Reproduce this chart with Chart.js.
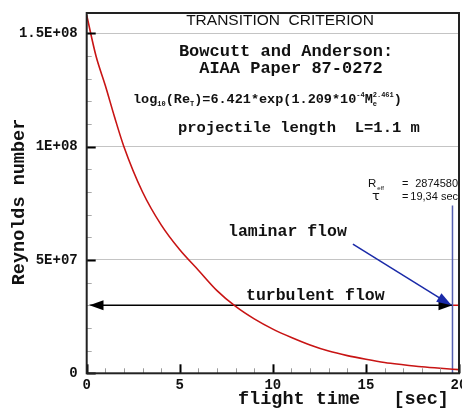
<!DOCTYPE html>
<html lang="en">
<head>
  <meta charset="UTF-8">
  <title>Transition criterion</title>
  <style>
    body {
      margin: 0;
      background: #ffffff;
    }
    #wrap {
      position: relative;
      width: 462px;
      height: 410px;
    }
  </style>
</head>
<body>
  <div id="wrap">
    <canvas id="chart" width="462" height="410"></canvas>
  </div>

  <script src="https://cdn.jsdelivr.net/npm/chart.js"></script>
  <script>
    // curve (flight time in s, Reynolds number)
    const flightTime = [0, 0.5, 1, 1.5, 2, 3, 4, 5, 6, 7, 8, 9, 10, 11, 12, 13, 14, 15, 16, 17, 18, 19, 20];
    const reynolds = [1.58e8, 1.40e8, 1.27e8, 1.13e8, 1.00e8, 8.0e7, 6.55e7, 5.45e7, 4.55e7, 3.65e7, 2.95e7,
      2.4e7, 1.95e7, 1.58e7, 1.25e7, 0.98e7, 0.78e7, 0.62e7, 0.48e7, 0.38e7, 0.29e7, 0.22e7, 0.16e7];

    const yTicks = [0, 5e7, 1e8, 1.5e8];
    const yTickLabels = ["0", "5E+07", "1E+08", "1.5E+08"];
    const xTicks = [0, 5, 10, 15, 20];
    const xTickLabels = ["0", "5", "10", "15", "20"];

    // markers
    const tauTime = 19.65;          // vertical blue line
    const tauLineTop = 7.4e7;
    const reCritical = 3.0e7;       // turbulent flow arrow level
    const turbulentFrom = 0.15;
    const laminarFrom = [14.3, 5.7e7];

    const curve = flightTime.map((t, i) => ({ x: t, y: reynolds[i] }));

    const ctxEl = document.getElementById("chart").getContext("2d");

    function arrowHead(ctx, x1, y1, x2, y2, len, half, color) {
      const a = Math.atan2(y2 - y1, x2 - x1);
      ctx.save();
      ctx.fillStyle = color;
      ctx.translate(x2, y2);
      ctx.rotate(a);
      ctx.beginPath();
      ctx.moveTo(0, 0);
      ctx.lineTo(-len, -half);
      ctx.lineTo(-len, half);
      ctx.closePath();
      ctx.fill();
      ctx.restore();
    }

    // draws a list of text runs one after another (sub/superscripts)
    function drawRuns(ctx, x, y, runs) {
      runs.forEach(r => {
        ctx.font = r.font;
        ctx.fillText(r.t, x, y + (r.dy || 0));
        let w = ctx.measureText(r.t).width;
        if (r.t2) {
          ctx.font = r.font2;
          ctx.fillText(r.t2, x, y + r.dy2);
          w = Math.max(w, ctx.measureText(r.t2).width);
        }
        x += w + (r.gap || 0);
      });
    }

    const decor = {
      id: "decor",
      afterDatasetsDraw(chart) {
        const ctx = chart.ctx;
        const a = chart.chartArea;
        const xs = chart.scales.x;
        const ys = chart.scales.y;

        ctx.save();
        // tick marks drawn inside the frame
        for (let v = 0; v <= 1.59e8; v += 1e7) {
          const y = Math.round(ys.getPixelForValue(v)) + 0.5;
          const major = Math.round(v / 1e7) % 5 === 0;
          ctx.strokeStyle = major ? "#000" : "#aaa";
          ctx.lineWidth = major ? 2 : 1;
          ctx.beginPath();
          ctx.moveTo(a.left, y);
          ctx.lineTo(a.left + (major ? 9 : 5), y);
          ctx.stroke();
        }
        for (let t = 0; t <= 20; t++) {
          const x = Math.round(xs.getPixelForValue(t)) + 0.5;
          const major = t % 5 === 0;
          ctx.strokeStyle = major ? "#000" : "#999";
          ctx.lineWidth = major ? 2 : 1;
          ctx.beginPath();
          ctx.moveTo(x, a.bottom);
          ctx.lineTo(x, a.bottom - (major ? 9 : 5));
          ctx.stroke();
        }

        // frame
        ctx.strokeStyle = "#222";
        ctx.lineWidth = 2;
        ctx.strokeRect(a.left, a.top, a.right - a.left, a.bottom - a.top);

        // arrow heads taken from the dataset points
        const turb = chart.getDatasetMeta(2).data;
        arrowHead(ctx, turb[1].x, turb[1].y, turb[0].x, turb[0].y, 14, 5, "#000");
        arrowHead(ctx, turb[0].x, turb[0].y, turb[1].x, turb[1].y, 14, 5, "#000");
        const lam = chart.getDatasetMeta(3).data;
        arrowHead(ctx, lam[0].x, lam[0].y, lam[1].x, lam[1].y, 15, 5, "#1a2aa8");

        // texts
        ctx.fillStyle = "#111";
        ctx.textBaseline = "middle";
        ctx.textAlign = "center";
        ctx.font = '15.5px "Liberation Sans", Arial, sans-serif';
        ctx.fillText("TRANSITION  CRITERION", 280, 21);

        ctx.font = 'bold 17px "Liberation Mono", "Courier New", monospace';
        ctx.fillText("Bowcutt and Anderson:", 286, 52);
        ctx.fillText("AIAA Paper 87-0272", 291, 69);

        ctx.textAlign = "left";
        const big = 'bold 13.5px "Liberation Mono", monospace';
        const sml = 'bold 7px "Liberation Mono", monospace';
        drawRuns(ctx, 133, 100, [
          { t: "log", font: big },
          { t: "10", font: sml, dy: 4 },
          { t: "(Re", font: big },
          { t: "T", font: sml, dy: 4 },
          { t: ")=6.421*exp(1.209*10", font: big },
          { t: "-4", font: sml, dy: -5 },
          { t: "M", font: big },
          { t: "e", font: sml, dy: 4, t2: "2.461", font2: sml, dy2: -5 },
          { t: ")", font: big }
        ]);

        ctx.font = 'bold 15.5px "Liberation Mono", monospace';
        ctx.fillText("projectile length  L=1.1 m", 178, 128);

        ctx.font = 'bold 16.5px "Liberation Mono", monospace';
        ctx.fillText("laminar flow", 228, 232);
        ctx.fillText("turbulent flow", 246, 296);

        // R_eff / tau note
        drawRuns(ctx, 368, 184, [
          { t: "R", font: '11.5px "Liberation Sans", Arial, sans-serif', gap: 1 },
          { t: "eff", font: '6px "Liberation Sans", Arial, sans-serif', dy: 4 }
        ]);
        ctx.font = '13px "DejaVu Sans", sans-serif';
        ctx.fillText("\u03c4", 372, 197);
        ctx.font = '11px "Liberation Sans", Arial, sans-serif';
        ctx.fillText("=", 402, 184);
        ctx.fillText("=", 402, 197);
        ctx.textAlign = "right";
        ctx.fillText("2874580", 458, 184);
        ctx.fillText("19,34 sec", 458, 197);
        ctx.textAlign = "left";

        // axis titles
        ctx.font = 'bold 18.5px "Liberation Mono", monospace';
        ctx.fillText("flight time   [sec]", 238, 399);
        ctx.save();
        ctx.translate(19, 202);
        ctx.rotate(-Math.PI / 2);
        ctx.textAlign = "center";
        ctx.font = 'bold 18.5px "Liberation Mono", monospace';
        ctx.fillText("Reynolds number", 0, 0);
        ctx.restore();

        ctx.restore();
      }
    };

    const tickFont = { family: '"Liberation Mono", "Courier New", monospace', size: 14, weight: "bold" };

    new Chart(ctxEl, {
      type: "line",
      data: {
        datasets: [
          {
            data: curve,
            borderColor: "#c81414",
            borderWidth: 1.6,
            pointRadius: 0,
            cubicInterpolationMode: "monotone"
          },
          {
            data: [{ x: tauTime, y: 0 }, { x: tauTime, y: tauLineTop }],
            borderColor: "#5560b0",
            borderWidth: 1.5,
            pointRadius: 0
          },
          {
            data: [{ x: turbulentFrom, y: reCritical }, { x: tauTime, y: reCritical }],
            borderColor: "#000",
            borderWidth: 1.5,
            pointRadius: 0
          },
          {
            data: [{ x: laminarFrom[0], y: laminarFrom[1] }, { x: tauTime - 0.05, y: reCritical }],
            borderColor: "#1a2aa8",
            borderWidth: 1.5,
            pointRadius: 0
          },
          {
            data: [{ x: tauTime, y: reCritical }, { x: 20, y: reCritical }],
            borderColor: "#d01010",
            borderWidth: 1.5,
            pointRadius: 0
          }
        ]
      },
      options: {
        responsive: false,
        animation: false,
        layout: { padding: { top: 13, right: 3, left: 0, bottom: 0 } },
        plugins: {
          legend: { display: false },
          tooltip: { enabled: false }
        },
        scales: {
          x: {
            type: "linear",
            min: 0,
            max: 20,
            afterBuildTicks: s => { s.ticks = xTicks.map(v => ({ value: v })); },
            afterFit: s => {
              s.height = 36.7;
              s.paddingLeft = 0;
              s.paddingRight = 0;
            },
            grid: { display: false, drawTicks: false },
            border: { display: false },
            ticks: {
              autoSkip: false,
              maxRotation: 0,
              padding: 4,
              color: "#111",
              font: tickFont,
              callback: v => xTickLabels[xTicks.indexOf(v)]
            }
          },
          y: {
            type: "linear",
            min: 0,
            max: 1.59e8,
            afterBuildTicks: s => { s.ticks = yTicks.map(v => ({ value: v })); },
            afterFit: s => {
              s.width = 86.7;
              s.paddingTop = 0;
              s.paddingBottom = 0;
            },
            grid: { color: "#c4c4c4", lineWidth: 1, drawTicks: false },
            border: { display: false },
            ticks: {
              autoSkip: false,
              padding: 9,
              color: "#111",
              font: tickFont,
              callback: v => yTickLabels[yTicks.indexOf(v)]
            }
          }
        }
      },
      plugins: [decor]
    });
  </script>
</body>
</html>
